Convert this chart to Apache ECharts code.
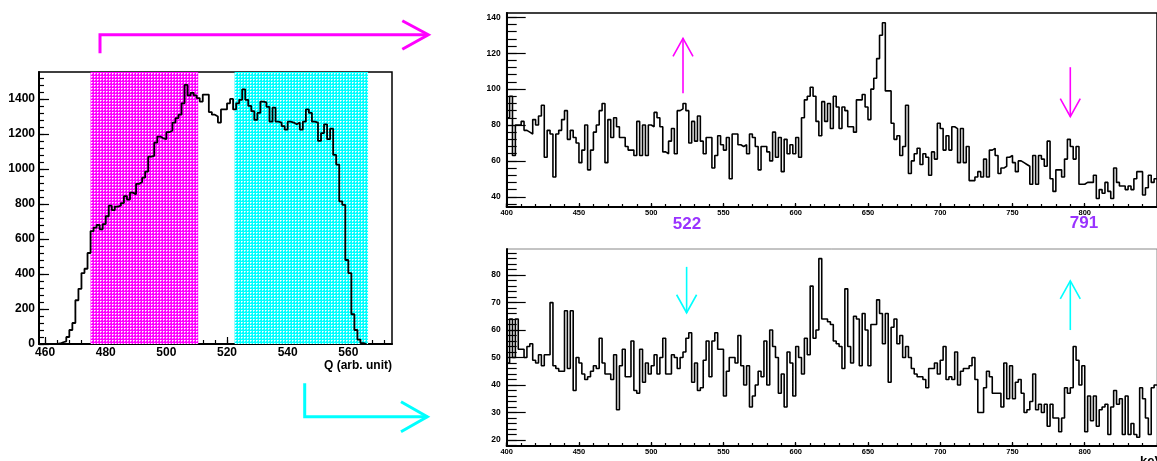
<!DOCTYPE html>
<html><head><meta charset="utf-8">
<script src="https://cdn.jsdelivr.net/npm/echarts@6/dist/echarts.min.js"></script>
<style>html,body{margin:0;padding:0;background:#fff}#c{width:1157px;height:461px}</style>
</head><body><div id="c"></div>
<script>
// ---------- DATA ----------
// Left: charge spectrum, bins of 1 unit starting at 458
const qStart = 458, qBinWidth = 1;
const qCounts = [
 0,0,0,0,0,0,3,10,15,40,80,120,250,315,405,430,520,
 645,665,680,655,685,730,790,765,785,790,805,845,825,865,855,915,925,950,985,1070,
 1075,1150,1185,1175,1170,1210,1220,1265,1290,1310,1375,1480,
 1420,1435,1420,1405,1385,1425,1425,1325,1310,1300,1265,1340,1340,1375,1400,1340,
 1375,1395,1455,1395,1360,1330,1280,1320,1385,1380,1355,1270,1350,1270,1265,1245,
 1225,1270,1265,1255,1265,1225,1270,1340,1320,1270,1265,1160,1205,1255,1170,1230,
 1080,1025,815,795,480,405,170,80,25,5,0
];
const magentaBand = [475, 510.5];
const cyanBand = [522.5, 566.5];
const qMajorTicks = [460,480,500,520,540,560];
const qMinorTicks = [460,464,468,472,476,480,484,488,492,496,500,504,508,512,516,520,524,528,532,536,540,544,548,552,556,560,564,568,572];
const qCountMajorTicks = [0,200,400,600,800,1000,1200,1400];
const qCountMinorTicks = [0,40,80,120,160,200,240,280,320,360,400,440,480,520,560,600,640,680,720,760,800,840,880,920,960,1000,1040,1080,1120,1160,1200,1240,1280,1320,1360,1400,1440,1480,1520];

// Right: energy spectra, bins of 2 keV starting at 400
const eStart = 400, eBinWidth = 2;
const topCounts = [
 84,96,63,80,80,82,77,76,75,83,
 80,85,91,62,77,75,51,75,77,83,
 88,72,77,73,70,59,66,80,55,66,
 76,80,88,92,59,83,73,84,79,73,
 73,68,66,66,63,82,63,80,63,80,
 79,87,84,79,65,64,71,78,64,88,
 89,92,88,70,82,71,85,71,64,73,
 73,56,63,74,69,66,73,50,75,75,
 69,68,69,64,75,73,68,55,68,68,
 65,60,76,62,73,54,72,64,69,64,
 73,62,84,94,96,101,96,82,74,93,
 82,92,78,96,90,78,90,88,79,79,
 76,94,94,97,90,83,100,106,117,130,
 137,99,99,81,72,74,63,68,91,53,
 60,64,67,58,64,62,52,65,61,81,
 78,66,74,66,79,78,59,78,59,68,
 49,49,51,54,51,61,51,66,67,63,
 53,56,57,62,63,59,54,60,59,58,
 57,47,63,47,63,61,57,71,50,43,
 55,55,51,61,72,68,61,68,47,47,
 48,48,48,52,39,44,42,48,43,39,
 56,48,46,46,44,46,44,50,54,54,
 41,45,52,48,50
];
const bottomCounts = [
 48,64,50,64,53,53,50,54,55,49,
 48,51,47,51,51,70,47,46,45,45,
 67,46,67,38,50,48,44,42,43,45,
 47,46,57,48,44,44,42,51,31,47,
 53,43,43,56,38,37,53,41,48,44,
 47,51,44,50,57,44,44,51,50,46,
 50,52,57,59,41,48,38,39,49,56,
 43,56,59,53,53,36,45,50,50,48,
 58,47,40,47,32,36,40,45,43,56,
 40,60,54,50,37,44,32,52,48,36,
 54,50,44,57,51,76,57,60,86,64,
 64,63,62,56,55,54,46,75,54,48,
 65,64,47,66,60,47,62,62,71,66,
 55,66,41,61,64,55,58,50,54,50,
 46,44,43,43,42,39,46,46,48,44,
 49,54,42,43,42,52,40,45,46,46,
 47,50,42,30,30,39,45,43,37,37,
 37,32,48,35,47,35,41,42,37,30,
 31,34,44,31,33,30,33,25,33,28,
 28,23,28,39,37,39,54,49,40,47,
 23,36,27,36,25,31,32,33,22,32,
 38,33,35,22,36,22,26,22,21,39,
 35,28,22,39,40
];
const eMajorTicks = [400,450,500,550,600,650,700,750,800];
const eMinorTicks = [400,410,420,430,440,450,460,470,480,490,500,510,520,530,540,550,560,570,580,590,600,610,620,630,640,650,660,670,680,690,700,710,720,730,740,750,760,770,780,790,800,810,820,830,840,850];
const topMajorTicks = [40,60,80,100,120,140];
const topMinorTicks = [36,40,44,48,52,56,60,64,68,72,76,80,84,88,92,96,100,104,108,112,116,120,124,128,132,136,140];
const botMajorTicks = [20,30,40,50,60,70,80];
const botMinorTicks = [18,20,22,24,26,28,30,32,34,36,38,40,42,44,46,48,50,52,54,56,58,60,62,64,66,68,70,72,74,76,78,80,82,84,86,88];

// Arrows: [energy, tail value, tip value]
const topArrows = [[522, 97.7, 128.3], [790, 112.2, 84.7]];
const bottomArrows = [[524.5, 83, 66.3], [790, 60, 77.9]];
const peakLabels = ['522', '791'];

// ---------- CHART ----------
const FONT = '"Liberation Sans", Arial, Helvetica, sans-serif';
function histData(start, w, counts) {
  const d = counts.map((v, i) => [start + i * w, v]);
  d.push([start + counts.length * w, counts[counts.length - 1]]);
  return d;
}
function pattern(color, pale) {
  const c = document.createElement('canvas');
  c.width = 3; c.height = 3;
  const g = c.getContext('2d');
  g.fillStyle = color; g.fillRect(0, 0, 3, 3);
  g.fillStyle = '#ffffff';
  g.fillRect(1, 1, 1, 1);
  g.fillStyle = pale;
  g.fillRect(2, 1, 1, 1);
  g.fillRect(1, 2, 1, 1);
  return {image: c, repeat: 'repeat'};
}
const bandFills = [pattern('#ff00ff', '#ff99ff'), pattern('#00ffff', '#99ffff')];

function axis(dim, grid, min, max, ticks, tickLen, labelCfg, lineW, showLine) {
  return {
    gridIndex: grid, type: 'value', min: min, max: max,
    position: dim === 'x' ? 'bottom' : 'left', offset: 0,
    axisLine: {show: showLine, onZero: false, lineStyle: {color: '#000', width: lineW}},
    axisTick: {show: true, inside: true, length: tickLen, customValues: ticks, lineStyle: {color: '#000', width: 1.2}},
    axisLabel: labelCfg ? Object.assign({show: true, customValues: ticks, color: '#000', fontWeight: 'bold', fontFamily: FONT,
      formatter: function (v) { return String(v); }}, labelCfg) : {show: false},
    splitLine: {show: false}
  };
}

const chart = echarts.init(document.getElementById('c'), null, {renderer: 'canvas'});

function arrowRenderer(color) {
  return function (params, api) {
    const x = api.value(0);
    const a = api.coord([x, api.value(1)]);
    const b = api.coord([x, api.value(2)]);
    const dir = Math.sign(b[1] - a[1]);
    const hw = 10, hl = 18;
    return {type: 'group', children: [
      {type: 'line', shape: {x1: a[0], y1: a[1], x2: b[0], y2: b[1]}, style: {stroke: color, lineWidth: 1.6}},
      {type: 'polyline', shape: {points: [[b[0] - hw, b[1] - dir * hl], [b[0], b[1]], [b[0] + hw, b[1] - dir * hl]]},
       style: {stroke: color, lineWidth: 1.6, fill: null}}
    ]};
  };
}

const option = {
  animation: false,
  backgroundColor: '#ffffff',
  grid: [
    {left: 39, top: 72, width: 353, height: 272, show: true, borderColor: '#000', borderWidth: 1.5, backgroundColor: 'transparent'},
    {left: 506.7, top: 13, width: 660, height: 194, show: true, borderColor: '#000', borderWidth: 1.5, backgroundColor: 'transparent'},
    {left: 506.7, top: 249, width: 660, height: 197, show: true, borderColor: '#888', borderWidth: 1, backgroundColor: 'transparent'}
  ],
  xAxis: [
    axis('x', 0, 458, 574.4, qMajorTicks, 7, {margin: 3, fontSize: 12}, 2, true),
    axis('x', 0, 458, 574.4, qMinorTicks, 4, null, 2, false),
    axis('x', 1, 400, 850, eMajorTicks, 4, {margin: 2, fontSize: 7.5}, 2, true),
    axis('x', 1, 400, 850, eMinorTicks, 3, null, 2, false),
    axis('x', 2, 400, 850, eMajorTicks, 4, {margin: 2, fontSize: 7.5}, 2, true),
    axis('x', 2, 400, 850, eMinorTicks, 3, null, 2, false)
  ],
  yAxis: [
    axis('y', 0, 0, 1554, qCountMajorTicks, 10, {margin: 4, fontSize: 12}, 2, true),
    axis('y', 0, 0, 1554, qCountMinorTicks, 5, null, 2, false),
    axis('y', 1, 34.3, 142.4, topMajorTicks, 19, {margin: 6, fontSize: 8.5}, 2, true),
    axis('y', 1, 34.3, 142.4, topMinorTicks, 10, null, 2, false),
    axis('y', 2, 17.8, 89.5, botMajorTicks, 19, {margin: 6, fontSize: 8.5}, 2, true),
    axis('y', 2, 17.8, 89.5, botMinorTicks, 10, null, 2, false)
  ],
  series: [
    {
      type: 'custom', xAxisIndex: 0, yAxisIndex: 0, z: 1, silent: true,
      data: [magentaBand, cyanBand],
      renderItem: function (params, api) {
        const cs = params.coordSys;
        const x0 = api.coord([api.value(0), 0])[0];
        const x1 = api.coord([api.value(1), 0])[0];
        return {type: 'rect', shape: {x: x0, y: cs.y, width: x1 - x0, height: cs.height}, style: {fill: bandFills[params.dataIndex]}};
      }
    },
    {type: 'line', xAxisIndex: 0, yAxisIndex: 0, z: 3, step: 'end', symbol: 'none',
     data: histData(qStart, qBinWidth, qCounts), lineStyle: {color: '#000', width: 1.8}},
    {type: 'line', xAxisIndex: 2, yAxisIndex: 2, z: 3, step: 'end', symbol: 'none',
     data: histData(eStart, eBinWidth, topCounts), lineStyle: {color: '#000', width: 1.6}},
    {type: 'line', xAxisIndex: 4, yAxisIndex: 4, z: 3, step: 'end', symbol: 'none',
     data: histData(eStart, eBinWidth, bottomCounts), lineStyle: {color: '#000', width: 1.6}},
    {type: 'custom', xAxisIndex: 2, yAxisIndex: 2, z: 4, silent: true, data: topArrows, renderItem: arrowRenderer('#ff00ff')},
    {type: 'custom', xAxisIndex: 4, yAxisIndex: 4, z: 4, silent: true, data: bottomArrows, renderItem: arrowRenderer('#00ffff')}
  ],
  graphic: [
    {type: 'polyline', shape: {points: [[100, 53.3], [100, 34.7], [428, 34.7]]}, style: {stroke: '#ff00ff', lineWidth: 3, fill: null}},
    {type: 'polyline', shape: {points: [[402.3, 20.7], [428.3, 34.7], [402.3, 49.3]]}, style: {stroke: '#ff00ff', lineWidth: 3, fill: null}},
    {type: 'polyline', shape: {points: [[304.7, 383.3], [304.7, 416.7], [427.3, 416.7]]}, style: {stroke: '#00ffff', lineWidth: 3, fill: null}},
    {type: 'polyline', shape: {points: [[401, 401.7], [427.3, 416.7], [401, 431.7]]}, style: {stroke: '#00ffff', lineWidth: 3, fill: null}},
    {type: 'text', x: 392, y: 365.5, style: {text: 'Q (arb. unit)', fill: '#000', font: 'bold 12px ' + FONT, textAlign: 'right', align: 'right', textVerticalAlign: 'middle', verticalAlign: 'middle'}},
    {type: 'text', x: 687, y: 224, style: {text: peakLabels[0], fill: '#9933ff', font: 'bold 17px ' + FONT, textAlign: 'center', align: 'center', textVerticalAlign: 'middle', verticalAlign: 'middle'}},
    {type: 'text', x: 1084, y: 223.5, style: {text: peakLabels[1], fill: '#9933ff', font: 'bold 17px ' + FONT, textAlign: 'center', align: 'center', textVerticalAlign: 'middle', verticalAlign: 'middle'}},
    {type: 'text', x: 1140, y: 455, style: {text: 'keV', fill: '#000', font: 'bold 13px ' + FONT, textAlign: 'left', align: 'left', textVerticalAlign: 'top', verticalAlign: 'top'}}
  ]
};
chart.setOption(option);
</script>
</body></html>
